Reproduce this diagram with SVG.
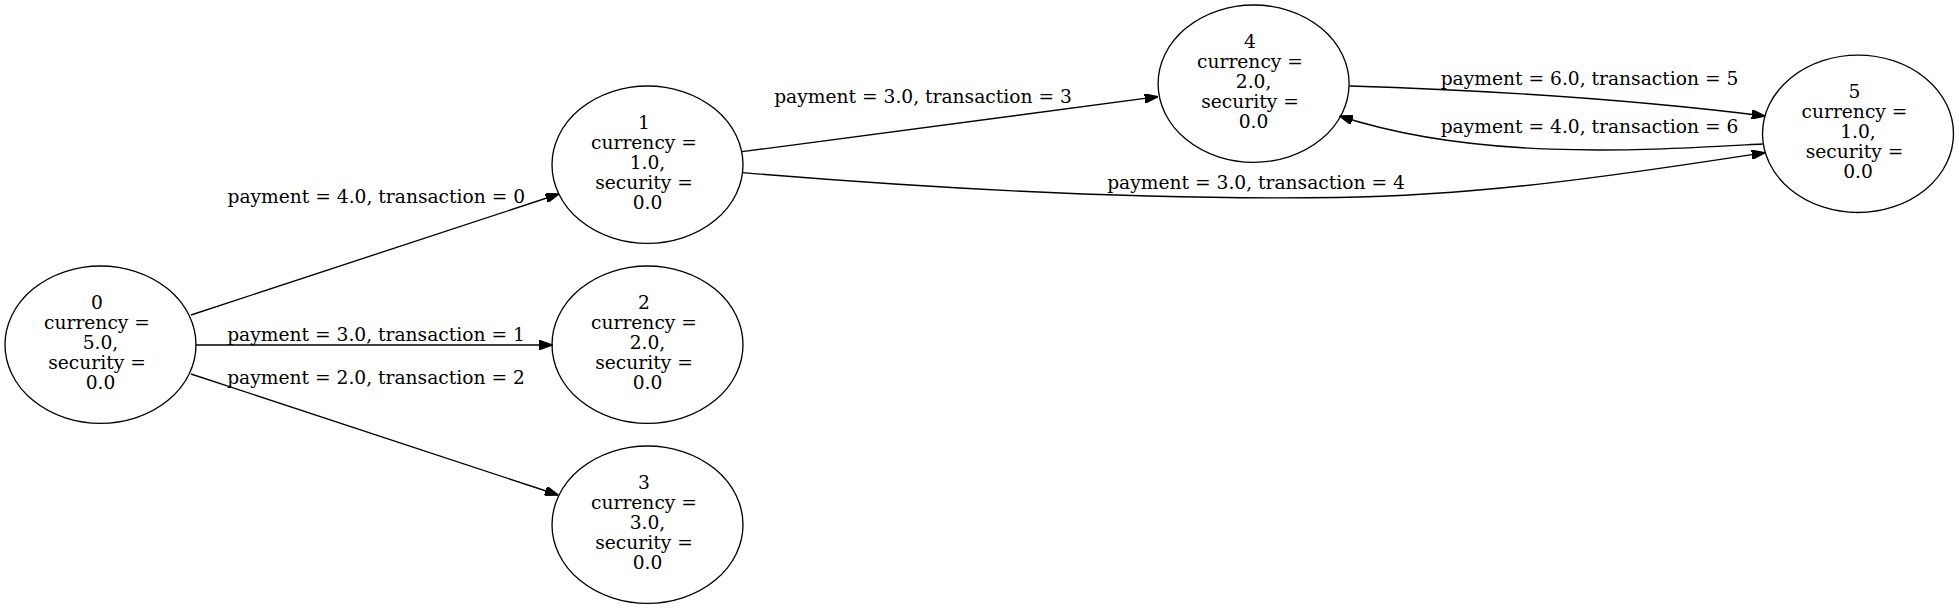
<svg xmlns="http://www.w3.org/2000/svg" width="1959" height="609" viewBox="0 0 1959 609">
<style>
.node ellipse{fill:none;stroke:#000;stroke-width:1.33}
text{font-family:"DejaVu Serif","Liberation Serif",serif;font-size:18.67px;fill:#000;text-anchor:middle}
.edge path{fill:none;stroke:#000;stroke-width:1.33}
</style>
<defs>
<marker id="ah" viewBox="0 0 10 7" markerWidth="13.3" markerHeight="9.3" markerUnits="userSpaceOnUse" refX="10" refY="3.5" orient="auto">
<path d="M0,0 L10,3.5 L0,7 z" fill="#000" stroke="#000" stroke-width="1"/>
</marker>
</defs>
<rect width="1959" height="609" fill="#fff"/>
<g id="edges" class="edge">
<path d="M191,315 L559,194" marker-end="url(#ah)"/>
<path d="M195.7,345 L552.5,345" marker-end="url(#ah)"/>
<path d="M191,374 L558.3,495" marker-end="url(#ah)"/>
<path d="M742,151.7 L1158,96.7" marker-end="url(#ah)"/>
<path d="M742.8,172.7 C950,190 1150,200 1337,197.5 C1500,195 1650,170 1765,152.7" marker-end="url(#ah)"/>
<path d="M1349.4,86 C1480,90 1620,98 1765,116" marker-end="url(#ah)"/>
<path d="M1762.7,144 C1650,150 1480,162 1339.5,116" marker-end="url(#ah)"/>
<text x="376.3" y="203.3">payment = 4.0, transaction = 0</text>
<text x="376" y="340.5">payment = 3.0, transaction = 1</text>
<text x="376" y="384">payment = 2.0, transaction = 2</text>
<text x="923" y="103.3">payment = 3.0, transaction = 3</text>
<text x="1256" y="189.3">payment = 3.0, transaction = 4</text>
<text x="1589.5" y="85">payment = 6.0, transaction = 5</text>
<text x="1589.5" y="133.3">payment = 4.0, transaction = 6</text>
</g>
<g id="node0" class="node">
<ellipse cx="100.5" cy="344.7" rx="95.5" ry="78.7"/>
<text x="97" y="309.3">0</text><text x="97" y="329.3">currency =</text><text x="100.5" y="349.3">5.0,</text><text x="97" y="369.3">security =</text><text x="100.5" y="389.3">0.0</text>
</g>
<g id="node1" class="node">
<ellipse cx="647.5" cy="164.7" rx="95.5" ry="78.7"/>
<text x="644" y="129.3">1</text><text x="644" y="149.3">currency =</text><text x="647.5" y="169.3">1.0,</text><text x="644" y="189.3">security =</text><text x="647.5" y="209.3">0.0</text>
</g>
<g id="node2" class="node">
<ellipse cx="647.5" cy="344.7" rx="95.5" ry="78.7"/>
<text x="644" y="309.3">2</text><text x="644" y="329.3">currency =</text><text x="647.5" y="349.3">2.0,</text><text x="644" y="369.3">security =</text><text x="647.5" y="389.3">0.0</text>
</g>
<g id="node3" class="node">
<ellipse cx="647.5" cy="524.7" rx="95.5" ry="78.7"/>
<text x="644" y="489.3">3</text><text x="644" y="509.3">currency =</text><text x="647.5" y="529.3">3.0,</text><text x="644" y="549.3">security =</text><text x="647.5" y="569.3">0.0</text>
</g>
<g id="node4" class="node">
<ellipse cx="1253.6" cy="83.7" rx="95.5" ry="78.7"/>
<text x="1250" y="48.3">4</text><text x="1250" y="68.3">currency =</text><text x="1253.6" y="88.3">2.0,</text><text x="1250" y="108.3">security =</text><text x="1253.6" y="128.3">0.0</text>
</g>
<g id="node5" class="node">
<ellipse cx="1858" cy="133.8" rx="95.5" ry="78.7"/>
<text x="1854.5" y="98.4">5</text><text x="1854.5" y="118.4">currency =</text><text x="1858" y="138.4">1.0,</text><text x="1854.5" y="158.4">security =</text><text x="1858" y="178.4">0.0</text>
</g>
</svg>
